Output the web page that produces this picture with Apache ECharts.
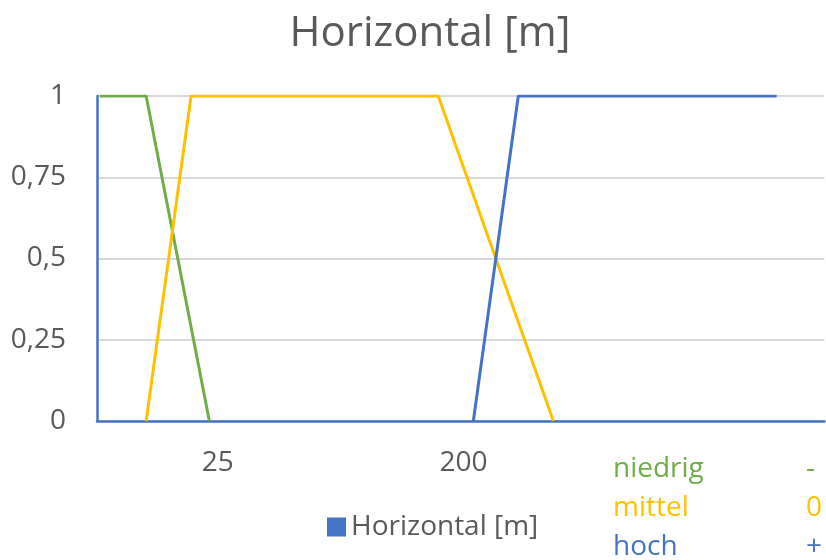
<!DOCTYPE html>
<html>
<head>
<meta charset="utf-8">
<title>Horizontal [m]</title>
<script src="https://cdn.jsdelivr.net/npm/echarts@6/dist/echarts.min.js"></script>
<style>
  html, body { margin: 0; padding: 0; background: #ffffff; }
  #chart { width: 826px; height: 560px; }
</style>
</head>
<body>
<div id="chart"></div>
<script>
// Membership functions for horizontal distance [m]
const niedrigX = [-59, -26, 19];
const niedrigY = [1, 1, 0];
const mittelX = [-26, 6, 182, 264];
const mittelY = [0, 1, 1, 0];
const hochX = [207, 239, 423];
const hochY = [0, 1, 1];

const xLabels = [25, 200];
const yTicks = [0, 0.25, 0.5, 0.75, 1];
const classNames = ['niedrig', 'mittel', 'hoch'];
const classSigns = ['-', '0', '+'];

const GREEN = '#70AD47';
const YELLOW = '#FFC000';
const BLUE = '#4472C4';
const TEXT = '#595959';
const FONT = '"Open Sans", "Noto Sans", sans-serif';

function pairs(xs, ys) {
  return xs.map((x, i) => [x, ys[i]]);
}

function lineSeries(name, xs, ys, color) {
  return {
    name: name,
    type: 'line',
    data: pairs(xs, ys),
    symbol: 'none',
    lineStyle: { color: color, width: 3 },
    itemStyle: { color: color },
    animation: false,
    z: 3
  };
}

const chart = echarts.init(document.getElementById('chart'), null, { renderer: 'canvas' });

// class captions below the plot, one row per membership function
const classColors = [GREEN, YELLOW, BLUE];
const classRowsY = [455, 494, 533];
const graphicTexts = [];
classNames.forEach((n, i) => {
  graphicTexts.push({
    type: 'text', left: 613, top: classRowsY[i],
    style: { text: n, fill: classColors[i], font: '28px ' + FONT }
  });
  graphicTexts.push({
    type: 'text', left: 806, top: classRowsY[i],
    style: { text: classSigns[i], fill: classColors[i], font: '28px ' + FONT }
  });
});

chart.setOption({
  backgroundColor: '#ffffff',
  animation: false,
  textStyle: { fontFamily: FONT },
  title: {
    text: 'Horizontal [m]',
    left: 425,
    textAlign: 'center',
    top: 8,
    textStyle: { color: TEXT, fontSize: 42, fontWeight: 'normal', fontFamily: FONT }
  },
  legend: {
    data: [{ name: 'Horizontal [m]', icon: 'rect' }],
    left: 327,
    top: 513,
    padding: 0,
    itemWidth: 19,
    itemHeight: 19,
    itemGap: 9,
    textStyle: { color: TEXT, fontSize: 28, fontFamily: FONT }
  },
  grid: { left: 97, right: 0, top: 96, bottom: 139, containLabel: false },
  xAxis: {
    type: 'value',
    min: -61,
    max: 457,
    interval: 1,
    axisLine: { show: true, onZero: false, lineStyle: { color: BLUE, width: 2.5 } },
    axisTick: { show: false },
    splitLine: { show: false },
    axisLabel: {
      color: TEXT,
      fontSize: 28,
      margin: 28,
      showMinLabel: false,
      showMaxLabel: false,
      formatter: v => (xLabels.indexOf(v) >= 0 ? String(v) : '')
    }
  },
  yAxis: {
    type: 'value',
    min: 0,
    max: 1,
    interval: 0.25,
    axisLine: { show: true, onZero: false, lineStyle: { color: BLUE, width: 2.5 } },
    axisTick: { show: false },
    splitLine: { show: true, lineStyle: { color: '#D9D9D9', width: 2 } },
    axisLabel: {
      color: TEXT,
      fontSize: 28,
      margin: 31,
      formatter: v => (yTicks.indexOf(v) >= 0 ? String(v).replace('.', ',') : '')
    }
  },
  series: [
    lineSeries('niedrig', niedrigX, niedrigY, GREEN),
    lineSeries('mittel', mittelX, mittelY, YELLOW),
    lineSeries('hoch', hochX, hochY, BLUE),
    { name: 'Horizontal [m]', type: 'line', data: [], itemStyle: { color: BLUE } }
  ],
  graphic: graphicTexts
});
</script>
</body>
</html>
